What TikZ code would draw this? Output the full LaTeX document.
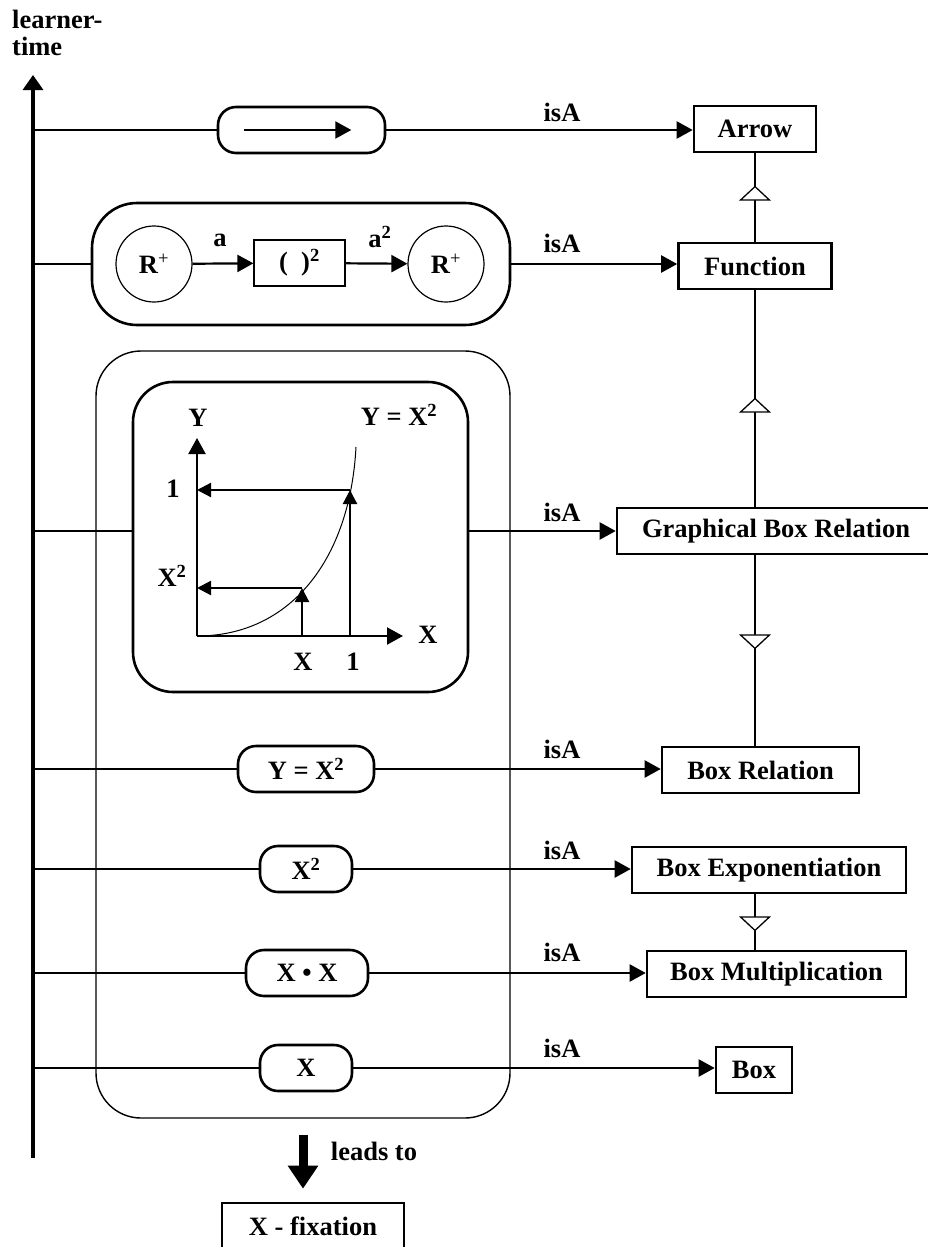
\documentclass[tikz,border=0pt]{standalone}
\usepackage{fontspec}
\setmainfont{Liberation Serif}
\usetikzlibrary{arrows.meta,positioning,decorations.markings}

\begin{document}
\begin{tikzpicture}[
    x=1pt, y=-1pt,
    font=\fontsize{26.5}{27}\selectfont\bfseries,
    cls/.style = {rectangle, draw, line width=2.6pt, minimum height=46pt,
                  inner sep=0pt},
    pill/.style = {rectangle, rounded corners=18pt, draw, line width=2.6pt,
                   minimum height=46pt, inner sep=0pt},
    outer box/.style = {rectangle, rounded corners=45pt, draw,
                        line width=1.4pt, inner sep=0pt},
    thin box/.style = {draw, line width=1.2pt, inner sep=0pt},
    conn/.style = {line width=2.2pt},
    isa/.style = {line width=2.2pt, -{Triangle[length=16pt,width=17pt]}},
    small arrow/.style = {line width=2.2pt, -{Triangle[length=14pt,width=14pt]}},
    gen/.style = {line width=2.2pt, postaction={decorate},
                  decoration={markings, mark=at position #1 with
                  {\arrow[line width=1.3pt]{Triangle[fill=white,length=15pt,width=32pt]}}}},
    lbl/.style = {inner sep=0pt}
  ]
    \path[fill=white, use as bounding box] (0,0) rectangle (927,1247);

    %% ---- learner-time axis ----
    \coordinate (tlbot) at (33,1158);
    \coordinate (tltop) at (33,75);
    \draw[line width=3.2pt, -{Triangle[length=15pt,width=20pt]}] (tlbot) -- (tltop);
    \node[lbl, align=left, anchor=north west] (ltime) at (12,10) {learner-\\time};

    %% ---- row 1: arrow ----
    \node[pill, minimum width=167pt] (pill1) at (301.5,130) {};
    \draw[isa] ([xshift=27pt]pill1.west) -- ([xshift=-35pt]pill1.east);
    \node[cls, minimum width=122pt] (arrow) at (755,129) {Arrow};
    \draw[conn] (tlbot |- pill1) -- (pill1);
    \draw[isa] (pill1.east) -- (pill1.east -| arrow.west);
    \node[lbl] (isa1) at (562,112) {isA};

    %% ---- row 2: function ----
    \node[pill, rounded corners=45pt, minimum width=418pt,
          minimum height=122pt] (fnbox) at (301,264) {};
    \node[circle, thin box, minimum size=76pt] (dom) at (154,264)
      {R\textsuperscript{\mdseries +}};
    \node[thin box, minimum width=91pt, minimum height=46pt] (sq) at (299.5,263)
      {(\hspace{0.5em})\textsuperscript{2}};
    \node[circle, thin box, minimum size=76pt] (cod) at (446,264)
      {R\textsuperscript{\mdseries +}};
    \draw[isa] (dom) -- (sq);
    \draw[isa] (sq) -- (cod);
    \node[lbl] (lbla) at (220,240) {a};
    \node[lbl] (lblasq) at (380,237) {a\textsuperscript{2}};
    \node[cls, minimum width=153pt] (fn) at (755,266) {Function};
    \draw[conn] (tlbot |- fnbox) -- (fnbox);
    \draw[isa] (fnbox.east) -- (fnbox.east -| fn.west);
    \node[lbl] (isa2) at (562,243) {isA};
    \draw[gen=56pt] (fn) -- (arrow);

    %% ---- box representations ----
    \node[outer box, minimum width=414pt, minimum height=767pt] (outer) at (303,734.5) {};

    %% ---- row 3: graphical box relation ----
    \node[pill, rounded corners=40pt, minimum width=335pt,
          minimum height=310pt] (graph) at (300.5,537) {};
    \coordinate (o) at (197,636);
    \coordinate (ytip) at (197,438);
    \coordinate (xtip) at (403,636);
    \coordinate (px) at (302,588);
    \coordinate (p1) at (350,490);
    \draw[isa] (o) -- (ytip);
    \draw[isa] (o) -- (xtip);
    \draw[line width=1pt] (o) .. controls (290,636) and (350,560) .. (356,447);
    \draw[small arrow] (px |- o) -- (px);
    \draw[small arrow] (px) -- (px -| o);
    \draw[small arrow] (p1 |- o) -- (p1);
    \draw[small arrow] (p1) -- (p1 -| o);
    \node[lbl] (ylab) at (198,418) {Y};
    \node[lbl] (xlab) at (428,635) {X};
    \node[lbl] (xval) at (303,662) {X};
    \node[lbl] (xone) at (353,662) {1};
    \node[lbl] (yone) at (173,489) {1};
    \node[lbl] (ysq) at (172,576) {X\textsuperscript{2}};
    \node[lbl] (eqn) at (399,415) {Y = X\textsuperscript{2}};
    \node[cls, minimum width=318pt] (gbr) at (776,531) {Graphical Box Relation};
    \coordinate (r3) at (tlbot |- gbr);
    \draw[conn] (r3) -- (r3 -| graph.west);
    \draw[isa] (r3 -| graph.east) -- (gbr);
    \node[lbl] (isa3) at (562,512) {isA};
    \draw[gen=109pt] (gbr.north -| fn) -- (fn);

    %% ---- row 4: box relation ----
    \node[pill, minimum width=136pt] (pill4) at (306,769) {Y = X\textsuperscript{2}};
    \node[cls, minimum width=197pt] (boxrel) at (760.5,770) {Box Relation};
    \draw[conn] (tlbot |- pill4) -- (pill4);
    \draw[isa] (pill4) -- (pill4 -| boxrel.west);
    \node[lbl] (isa4) at (562,749) {isA};
    \draw[gen=94pt] (gbr.south -| fn) -- (boxrel.north -| fn);

    %% ---- row 5: box exponentiation ----
    \node[pill, minimum width=92pt] (pill5) at (306,869) {X\textsuperscript{2}};
    \node[cls, minimum width=274pt] (boxexp) at (769,870) {Box Exponentiation};
    \draw[conn] (tlbot |- pill5) -- (pill5);
    \draw[isa] (pill5) -- (pill5 -| boxexp.west);
    \node[lbl] (isa5) at (562,850) {isA};

    %% ---- row 6: box multiplication ----
    \node[pill, minimum width=122pt] (pill6) at (307,973) {X \textbullet\ X};
    \node[cls, minimum width=259pt] (boxmul) at (776.5,974) {Box Multiplication};
    \draw[conn] (tlbot |- pill6) -- (pill6);
    \draw[isa] (pill6) -- (pill6 -| boxmul.west);
    \node[lbl] (isa6) at (562,952) {isA};
    \draw[gen=37pt] (boxexp.south -| fn) -- (boxmul.north -| fn);

    %% ---- row 7: box ----
    \node[pill, minimum width=92pt] (pill7) at (306,1068) {X};
    \node[cls, minimum width=76pt] (box) at (754,1070) {Box};
    \draw[conn] (tlbot |- pill7) -- (pill7);
    \draw[isa] (pill7) -- (pill7 -| box.west);
    \node[lbl] (isa7) at (562,1048) {isA};

    %% ---- leads to fixation ----
    \node[cls, minimum width=182pt] (fix) at (313,1226) {X - fixation};
    \draw[line width=9pt, -{Triangle[length=23pt,width=29pt]}]
      ([yshift=-16pt]outer.south) -- ([yshift=13pt]outer.south |- fix.north);
    \node[lbl] (leads) at (374,1151) {leads to};

  \end{tikzpicture}
\end{document}
